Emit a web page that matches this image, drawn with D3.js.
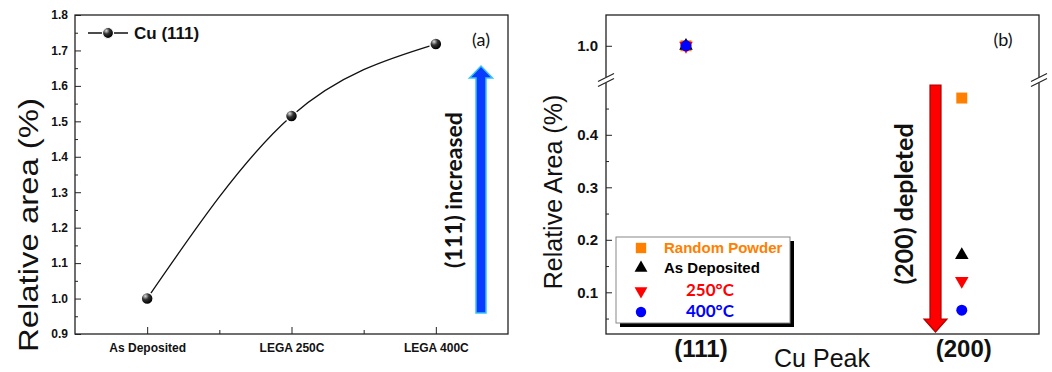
<!DOCTYPE html>
<html>
<head>
<meta charset="utf-8">
<script src="https://cdn.jsdelivr.net/npm/d3@7"></script>
<style>
  body { margin: 0; background: #fff; }
  svg { display: block; }
  .axis path, .axis line { stroke: #222; }
</style>
</head>
<body>
<div id="chart"></div>
<script>
// panel (a)
const conditions = ['As Deposited', 'LEGA 250C', 'LEGA 400C'];
const cu111Area = [1.0, 1.515, 1.718];
const leftYTicks = [0.9, 1.0, 1.1, 1.2, 1.3, 1.4, 1.5, 1.6, 1.7, 1.8];

// panel (b)
const peaks = ['(111)', '(200)'];
const randomPowder = [1.0, 0.47];
const asDeposited = [1.0, 0.171];
const anneal250 = [1.0, 0.1215];
const anneal400 = [1.0, 0.066];
const lowerYTicks = [0.1, 0.2, 0.3, 0.4];
const upperYTicks = [1.0];

const W = 1052, H = 372;
const sansFont = '"Liberation Sans", Arial, sans-serif';
const labelFont = 'Lato, "Open Sans", sans-serif';

const svg = d3.select('#chart').append('svg').attr('width', W).attr('height', H);
const defs = svg.append('defs');

const ballGrad = defs.append('radialGradient')
  .attr('id', 'ball').attr('cx', '35%').attr('cy', '30%').attr('r', '65%');
ballGrad.append('stop').attr('offset', '0%').attr('stop-color', '#ddd');
ballGrad.append('stop').attr('offset', '45%').attr('stop-color', '#333');
ballGrad.append('stop').attr('offset', '100%').attr('stop-color', '#000');

// ---------------- panel (a) ----------------
const A = { left: 75, right: 508, top: 15, bottom: 334 };
const xA = d3.scaleLinear().domain([-0.5, 2.5]).range([A.left, A.right]);
const yA = d3.scaleLinear().domain([0.9, 1.8]).range([A.bottom, A.top]);

const gA = svg.append('g');

gA.append('rect')
  .attr('x', A.left).attr('y', A.top)
  .attr('width', A.right - A.left).attr('height', A.bottom - A.top)
  .attr('fill', 'none').attr('stroke', '#222').attr('stroke-width', 1.3);

// y axis major + minor, ticks pointing inward
gA.append('g').attr('class', 'axis')
  .attr('transform', `translate(${A.left},0)`)
  .call(d3.axisLeft(yA).tickValues(leftYTicks).tickSize(-6).tickPadding(7).tickFormat(d3.format('.1f')))
  .call(g => g.select('.domain').remove())
  .selectAll('text')
  .style('font-family', sansFont).style('font-weight', 'bold').style('font-size', '12px').attr('fill', '#111');

gA.append('g').attr('class', 'axis')
  .attr('transform', `translate(${A.left},0)`)
  .call(d3.axisLeft(yA).tickValues(d3.range(0.95, 1.8, 0.1)).tickSize(-3).tickFormat(''))
  .call(g => g.select('.domain').remove());

// x axis
gA.append('g').attr('class', 'axis')
  .attr('transform', `translate(0,${A.bottom})`)
  .call(d3.axisBottom(xA).tickValues(d3.range(conditions.length)).tickSize(-7).tickPadding(9)
    .tickFormat(i => conditions[i]))
  .call(g => g.select('.domain').remove())
  .selectAll('text')
  .style('font-family', sansFont).style('font-weight', 'bold').style('font-size', '12px').attr('fill', '#111');

gA.append('g').attr('class', 'axis')
  .attr('transform', `translate(0,${A.bottom})`)
  .call(d3.axisBottom(xA).tickValues([0.5, 1.5]).tickSize(-4).tickFormat(''))
  .call(g => g.select('.domain').remove());

// spline through the points + markers
const lineA = d3.line()
  .x((d, i) => xA(i))
  .y(d => yA(d))
  .curve(d3.curveNatural);

gA.append('path')
  .datum(cu111Area)
  .attr('d', lineA)
  .attr('fill', 'none').attr('stroke', '#111').attr('stroke-width', 1.3);

gA.selectAll('.ball')
  .data(cu111Area)
  .join('circle')
  .attr('class', 'ball')
  .attr('cx', (d, i) => xA(i))
  .attr('cy', d => yA(d))
  .attr('r', 6)
  .attr('fill', 'url(#ball)')
  .attr('stroke', '#fff').attr('stroke-width', 1.5);

// legend
gA.append('line').attr('x1', 88).attr('x2', 128).attr('y1', 33).attr('y2', 33)
  .attr('stroke', '#111').attr('stroke-width', 1.3);
gA.append('circle').attr('cx', 108).attr('cy', 33).attr('r', 5.5)
  .attr('fill', 'url(#ball)').attr('stroke', '#fff').attr('stroke-width', 1.2);
gA.append('text').attr('x', 134).attr('y', 39)
  .style('font-family', sansFont).style('font-weight', 'bold').style('font-size', '17px')
  .attr('fill', '#111').text('Cu (111)');

gA.append('text').attr('x', 481).attr('y', 46).attr('text-anchor', 'middle')
  .style('font-family', labelFont).style('font-size', '18px').attr('fill', '#111').text('(a)');

// y title
gA.append('text')
  .attr('transform', 'translate(38,225) rotate(-90)')
  .attr('text-anchor', 'middle')
  .attr('textLength', 254).attr('lengthAdjust', 'spacingAndGlyphs')
  .style('font-family', sansFont).style('font-size', '28px').attr('fill', '#111')
  .text('Relative area (%)');

// blue arrow
const upArrow = (cx, top, bottom, shaft, head, headH) => {
  const s = shaft / 2, h = head / 2;
  return `M${cx - s},${bottom} L${cx - s},${top + headH} L${cx - h},${top + headH} L${cx},${top} ` +
    `L${cx + h},${top + headH} L${cx + s},${top + headH} L${cx + s},${bottom} Z`;
};
gA.append('path')
  .attr('d', upArrow(481, 66, 313, 10, 23, 12))
  .attr('fill', '#0a3cff').attr('stroke', '#36c3f5').attr('stroke-width', 1.5);

gA.append('text')
  .attr('transform', 'translate(462,190) rotate(-90)')
  .attr('text-anchor', 'middle')
  .style('font-family', labelFont).style('font-weight', 'bold').style('font-size', '23px')
  .attr('fill', '#111').text('(111) increased');

// ---------------- panel (b) ----------------
const B = { left: 606, right: 1039, top: 15, bottom: 334, breakY: 80 };
const xB = d3.scaleLinear().domain([-0.29, 1.28]).range([B.left, B.right]);
const yLow = d3.scaleLinear().domain([0, 0.5]).range([344.8, 82.3]);
const yHigh = d3.scaleLinear().domain([0.95, 1.045]).range([B.breakY, B.top]);
const yB = v => (v > 0.75 ? yHigh(v) : yLow(v));

const gB = svg.append('g');

gB.append('rect')
  .attr('x', B.left).attr('y', B.top)
  .attr('width', B.right - B.left).attr('height', B.bottom - B.top)
  .attr('fill', 'none').attr('stroke', '#222').attr('stroke-width', 1.3);

// lower segment ticks
gB.append('g').attr('class', 'axis')
  .attr('transform', `translate(${B.left},0)`)
  .call(d3.axisLeft(yLow).tickValues(lowerYTicks).tickSize(-6).tickPadding(8).tickFormat(d3.format('.1f')))
  .call(g => g.select('.domain').remove())
  .selectAll('text')
  .style('font-family', sansFont).style('font-weight', 'bold').style('font-size', '15px').attr('fill', '#111');

gB.append('g').attr('class', 'axis')
  .attr('transform', `translate(${B.left},0)`)
  .call(d3.axisLeft(yLow).tickValues([0.05, 0.15, 0.25, 0.35, 0.45]).tickSize(-3).tickFormat(''))
  .call(g => g.select('.domain').remove());

// upper segment ticks
gB.append('g').attr('class', 'axis')
  .attr('transform', `translate(${B.left},0)`)
  .call(d3.axisLeft(yHigh).tickValues(upperYTicks).tickSize(-6).tickPadding(8).tickFormat(d3.format('.1f')))
  .call(g => g.select('.domain').remove())
  .selectAll('text')
  .style('font-family', sansFont).style('font-weight', 'bold').style('font-size', '15px').attr('fill', '#111');

// axis break marks
[B.left, B.right].forEach(x => {
  gB.append('rect').attr('x', x - 2).attr('y', B.breakY - 3).attr('width', 4).attr('height', 6).attr('fill', '#fff');
  [-2.5, 2.5].forEach(dy => {
    gB.append('line')
      .attr('x1', x - 8).attr('y1', B.breakY + dy + 4)
      .attr('x2', x + 8).attr('y2', B.breakY + dy - 4)
      .attr('stroke', '#222').attr('stroke-width', 1.1);
  });
});

// x labels
gB.append('g')
  .selectAll('text')
  .data(peaks)
  .join('text')
  .attr('x', (d, i) => xB(i) + (i === 0 ? 15 : 2))
  .attr('y', 357)
  .attr('text-anchor', 'middle')
  .style('font-family', sansFont).style('font-weight', 'bold').style('font-size', '24px')
  .attr('fill', '#111')
  .text(d => d);

gB.append('text').attr('x', 822).attr('y', 367).attr('text-anchor', 'middle')
  .style('font-family', sansFont).style('font-size', '25px').attr('fill', '#111').text('Cu Peak');

gB.append('text')
  .attr('transform', 'translate(562,192) rotate(-90)')
  .attr('text-anchor', 'middle')
  .style('font-family', sansFont).style('font-size', '25px').attr('fill', '#111')
  .text('Relative Area (%)');

gB.append('text').attr('x', 1003).attr('y', 46).attr('text-anchor', 'middle')
  .style('font-family', labelFont).style('font-size', '18px').attr('fill', '#111').text('(b)');

// red arrow
const downArrow = (cx, top, bottom, shaft, head, headH) => {
  const s = shaft / 2, h = head / 2;
  return `M${cx - s},${top} L${cx + s},${top} L${cx + s},${bottom - headH} L${cx + h},${bottom - headH} ` +
    `L${cx},${bottom} L${cx - h},${bottom - headH} L${cx - s},${bottom - headH} Z`;
};
gB.append('path')
  .attr('d', downArrow(935.5, 85, 332, 11, 23, 13))
  .attr('fill', '#ff0000').attr('stroke', '#b00000').attr('stroke-width', 1.2);

gB.append('text')
  .attr('transform', 'translate(913,204) rotate(-90)')
  .attr('text-anchor', 'middle')
  .style('font-family', labelFont).style('font-weight', 'bold').style('font-size', '25px')
  .attr('fill', '#111').text('(200) depleted');

// series markers
const seriesB = [
  { name: 'Random Powder', values: randomPowder, symbol: d3.symbolSquare, size: 120, color: '#ff8000', rot: 0, label: 664 },
  { name: 'As Deposited', values: asDeposited, symbol: d3.symbolTriangle, size: 80, color: '#000000', rot: 0, label: 664 },
  { name: '250°C', values: anneal250, symbol: d3.symbolTriangle, size: 80, color: '#ff0000', rot: 180, label: 686 },
  { name: '400°C', values: anneal400, symbol: d3.symbolCircle, size: 95, color: '#0000ff', rot: 0, label: 686 }
];

seriesB.forEach(s => {
  gB.append('g')
    .selectAll('path')
    .data(s.values)
    .join('path')
    .attr('d', d3.symbol().type(s.symbol).size(s.size))
    .attr('transform', (d, i) => `translate(${xB(i)},${yB(d)}) rotate(${s.rot})`)
    .attr('fill', s.color);
});

// legend with shadow
const lg = gB.append('g');
lg.append('rect').attr('x', 620).attr('y', 241).attr('width', 174).attr('height', 86).attr('fill', '#000');
lg.append('rect').attr('x', 616).attr('y', 237).attr('width', 174).attr('height', 86)
  .attr('fill', '#fff').attr('stroke', '#888').attr('stroke-width', 1);

const rowsY = [248, 268, 291, 312];
seriesB.forEach((s, i) => {
  lg.append('path')
    .attr('d', d3.symbol().type(s.symbol).size(s.size * 0.9))
    .attr('transform', `translate(641,${rowsY[i]}) rotate(${s.rot})`)
    .attr('fill', s.color);
  lg.append('text')
    .attr('x', s.label).attr('y', rowsY[i] + 5)
    .style('font-family', i < 2 ? sansFont : labelFont)
    .style('font-weight', 'bold')
    .style('font-size', i < 2 ? '15px' : '17px')
    .attr('fill', s.color)
    .text(s.name);
});
</script>
</body>
</html>
